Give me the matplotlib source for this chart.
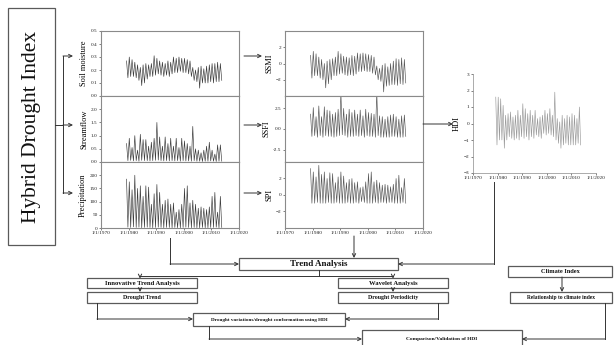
import matplotlib
matplotlib.use("Agg")
import matplotlib.pyplot as plt
from matplotlib.patches import Rectangle
import numpy as np

plt.rcParams['font.family'] = ['Liberation Serif', 'DejaVu Serif']

W, H = 614, 345

# ---------------- data (annual high / low) ----------------
years = list(range(1979, 2014))

sm_peak = [0.27, 0.30, 0.28, 0.26, 0.24, 0.22, 0.24, 0.25, 0.24, 0.25, 0.31, 0.29,
           0.27, 0.26, 0.25, 0.27, 0.26, 0.30, 0.29, 0.30, 0.29, 0.29, 0.28, 0.27,
           0.22, 0.20, 0.22, 0.23, 0.21, 0.23, 0.24, 0.25, 0.25, 0.26, 0.25]
sm_low = [0.14, 0.15, 0.15, 0.14, 0.12, 0.08, 0.10, 0.13, 0.15, 0.15, 0.16, 0.17,
          0.16, 0.15, 0.16, 0.15, 0.17, 0.18, 0.18, 0.19, 0.18, 0.18, 0.17, 0.15,
          0.12, 0.11, 0.06, 0.10, 0.10, 0.10, 0.11, 0.10, 0.11, 0.11, 0.12]

sf_peak = [0.70, 0.90, 0.55, 1.00, 0.45, 1.05, 0.85, 0.85, 0.60, 0.75, 0.90, 1.50,
           0.95, 0.60, 0.95, 0.70, 0.90, 0.60, 0.90, 0.55, 0.90, 0.80, 0.70, 0.60,
           1.35, 0.50, 0.45, 0.35, 0.45, 0.60, 0.75, 0.45, 0.30, 0.65, 0.65]
sf_low = [0.05, 0.06, 0.04, 0.05, 0.03, 0.06, 0.05, 0.05, 0.04, 0.05, 0.06, 0.07,
          0.05, 0.04, 0.05, 0.04, 0.05, 0.04, 0.05, 0.03, 0.05, 0.04, 0.04, 0.03,
          0.05, 0.03, 0.03, 0.02, 0.03, 0.03, 0.04, 0.03, 0.02, 0.03, 0.03]

pr_peak = [185, 175, 145, 200, 150, 160, 120, 160, 155, 90, 130, 165,
           135, 90, 105, 110, 90, 95, 60, 70, 90, 150, 160, 95,
           105, 90, 75, 80, 75, 70, 80, 120, 135, 60, 120]
pr_low = [3, 2, 4, 2, 3, 1, 2, 3, 2, 1, 2, 3, 2, 1, 2, 2, 1, 2, 1, 1, 2, 3, 2, 1,
          2, 1, 1, 2, 1, 1, 2, 2, 3, 1, 2]

ssmi_peak = [1.0, 1.5, 1.2, 0.8, 0.5, 0.0, 0.3, 0.5, 0.6, 0.8, 1.5, 1.2,
             0.9, 0.8, 0.7, 1.0, 0.9, 1.3, 1.2, 1.3, 1.2, 1.1, 1.0, 0.8,
             -0.3, -0.6, -0.2, 0.0, -0.4, 0.0, 0.3, 0.6, 0.5, 0.7, 0.5]
ssmi_low = [-1.8, -1.5, -1.5, -1.8, -2.0, -3.0, -2.5, -2.0, -1.5, -1.5, -1.3, -1.2,
            -1.4, -1.5, -1.4, -1.5, -1.3, -1.0, -1.0, -0.9, -1.0, -1.0, -1.2, -1.4,
            -2.0, -2.2, -3.5, -2.8, -2.7, -2.6, -2.6, -2.7, -2.5, -2.6, -2.4]

ssfi_peak = [1.8, 2.6, 1.5, 2.8, 1.5, 2.7, 2.3, 2.2, 1.8, 2.0, 2.4, 4.5,
             2.5, 1.8, 2.4, 2.0, 2.3, 1.8, 2.3, 1.6, 2.4, 2.0, 1.9, 1.8,
             4.5, 1.6, 1.5, 1.2, 1.5, 1.7, 1.8, 1.5, 1.2, 1.6, 1.7]
ssfi_low = [-0.9, -0.8, -1.0, -0.8, -1.0, -0.8, -0.9, -0.9, -1.0, -0.9, -0.8, -0.7,
            -0.8, -1.0, -0.9, -0.9, -0.8, -0.9, -0.8, -1.0, -0.8, -0.9, -0.9, -1.0,
            -0.8, -1.0, -1.0, -1.0, -1.0, -0.9, -0.9, -1.0, -1.0, -1.0, -0.9]

spi_peak = [3.2, 2.8, 2.2, 3.6, 2.5, 2.8, 2.0, 2.7, 2.6, 1.5, 2.2, 2.8,
            2.3, 1.5, 1.9, 2.0, 1.5, 1.6, 0.9, 1.0, 1.6, 2.6, 2.8, 1.6,
            1.8, 1.5, 1.2, 1.3, 1.2, 1.0, 1.3, 2.0, 2.4, 0.9, 2.0]
spi_low = [-1.0, -1.0, -0.9, -1.0, -1.0, -1.0, -0.9, -1.0, -1.0, -0.9, -1.0, -1.0,
           -1.0, -0.9, -1.0, -1.0, -0.9, -1.0, -0.8, -0.9, -1.0, -1.0, -1.0, -0.9,
           -1.0, -0.9, -0.9, -1.0, -0.9, -0.9, -1.0, -1.0, -1.0, -0.9, -1.0]

hdi_peak = [1.6, 1.6, 1.5, 1.1, 0.5, 0.6, 0.7, 0.4, 0.5, 0.8, 0.5, 1.2,
            0.9, 0.6, 0.8, 0.5, 0.8, 0.3, 0.4, 0.5, 0.8, 0.6, 0.9, 0.5,
            1.9, 0.3, 0.1, 0.5, 0.3, 0.5, 0.4, 0.6, 0.5, 0.3, 1.0]
hdi_low = [-1.3, -1.0, -1.0, -1.5, -1.0, -0.8, -0.9, -1.0, -0.9, -1.0, -0.8, -0.9,
           -0.8, -1.0, -0.8, -0.9, -0.7, -0.8, -0.9, -0.6, -0.7, -0.6, -0.7, -0.8,
           -1.0, -1.2, -1.5, -1.3, -1.2, -1.3, -1.3, -1.3, -1.3, -1.2, -1.3]

tick_years = [1970, 1980, 1990, 2000, 2010, 2020]
tick_labels = ["1/1/%d" % y for y in tick_years]


def series(peaks, lows):
    x, v = [], []
    for yr, p, t in zip(years, peaks, lows):
        x += [yr + 0.25, yr + 0.75]
        v += [p, t]
    return np.array(x), np.array(v)


fig = plt.figure(figsize=(6.14, 3.45), dpi=100)


def px_axes(x0, y0, x1, y1):
    return fig.add_axes([x0 / W, 1 - y1 / H, (x1 - x0) / W, (y1 - y0) / H])


def style(ax, show_x):
    for s in ax.spines.values():
        s.set_color('#8a8a8a')
        s.set_linewidth(0.8)
    ax.set_xlim(1970, 2020)
    ax.tick_params(labelsize=3.8, length=1.5, width=0.4, pad=1, colors='#222')
    ax.set_xticks(tick_years)
    if show_x:
        ax.set_xticklabels(tick_labels)
    else:
        ax.tick_params(axis='x', length=0, labelbottom=False)


LC = '#3a3a3a'
LW = 0.45

# left column
ax_sm = px_axes(101, 31, 239, 96)
x, v = series(sm_peak, sm_low)
ax_sm.plot(x, v, color=LC, lw=LW)
ax_sm.set_ylim(0, 0.5)
ax_sm.set_yticks([0, 0.1, 0.2, 0.3, 0.4, 0.5])
ax_sm.set_yticklabels(["0.0", "0.1", "0.2", "0.3", "0.4", "0.5"])
ax_sm.set_ylabel("Soil moisture", fontsize=6, labelpad=2)
style(ax_sm, False)

ax_sf = px_axes(101, 96, 239, 162)
x, v = series(sf_peak, sf_low)
ax_sf.plot(x, v, color=LC, lw=LW)
ax_sf.set_ylim(0, 2.5)
ax_sf.set_yticks([0, 0.5, 1.0, 1.5, 2.0])
ax_sf.set_yticklabels(["0.0", "0.5", "1.0", "1.5", "2.0"])
ax_sf.set_ylabel("Streamflow", fontsize=6, labelpad=2)
style(ax_sf, False)

ax_pr = px_axes(101, 162, 239, 228)
x, v = series(pr_peak, pr_low)
ax_pr.plot(x, v, color=LC, lw=LW)
ax_pr.set_ylim(0, 250)
ax_pr.set_yticks([0, 50, 100, 150, 200])
ax_pr.set_ylabel("Precipitation", fontsize=6, labelpad=2)
style(ax_pr, True)

# middle column
MC = '#555555'
ax_ssmi = px_axes(285, 31, 423, 96)
x, v = series(ssmi_peak, ssmi_low)
ax_ssmi.plot(x, v, color=MC, lw=LW)
ax_ssmi.set_ylim(-4, 4)
ax_ssmi.set_yticks([-2, 0, 2])
ax_ssmi.set_ylabel("SSMI", fontsize=6, labelpad=2)
style(ax_ssmi, False)

ax_ssfi = px_axes(285, 96, 423, 162)
x, v = series(ssfi_peak, ssfi_low)
ax_ssfi.plot(x, v, color=MC, lw=LW)
ax_ssfi.set_ylim(-4, 4)
ax_ssfi.set_yticks([-2.5, 0, 2.5])
ax_ssfi.set_yticklabels(["-2.5", "0.0", "2.5"])
ax_ssfi.set_ylabel("SSFI", fontsize=6, labelpad=2)
style(ax_ssfi, False)

ax_spi = px_axes(285, 162, 423, 228)
x, v = series(spi_peak, spi_low)
ax_spi.plot(x, v, color=MC, lw=LW)
ax_spi.set_ylim(-4, 4)
ax_spi.set_yticks([-2, 0, 2])
ax_spi.set_ylabel("SPI", fontsize=6, labelpad=2)
style(ax_spi, True)

# HDI
ax_hdi = px_axes(473, 74, 596, 173)
x, v = series(hdi_peak, hdi_low)
ax_hdi.plot(x, v, color='#9a9a9a', lw=LW)
ax_hdi.set_ylim(-3, 3)
ax_hdi.set_yticks([-3, -2, -1, 0, 1, 2, 3])
ax_hdi.set_ylabel("HDI", fontsize=6, labelpad=2)
style(ax_hdi, True)
for s in ax_hdi.spines.values():
    s.set_visible(False)
ax_hdi.spines['left'].set_visible(True)
ax_hdi.spines['bottom'].set_visible(True)
ax_hdi.spines['left'].set_linewidth(0.5)
ax_hdi.spines['bottom'].set_linewidth(0.5)

# ---------------- overlay for flowchart ----------------
ov = fig.add_axes([0, 0, 1, 1])
ov.set_xlim(0, W)
ov.set_ylim(H, 0)
ov.axis('off')
ov.patch.set_alpha(0)

FC = '#333333'


def box(x0, y0, x1, y1, text=None, fs=5, bold=True, ty=None):
    ov.add_patch(Rectangle((x0, y0), x1 - x0, y1 - y0, fill=False,
                           edgecolor='#5a5a5a', lw=0.9))
    if text:
        ov.text((x0 + x1) / 2, (y0 + y1) / 2 if ty is None else ty, text,
                ha='center', va='center', fontsize=fs,
                fontweight='bold' if bold else 'normal', color='#111')


def path(pts, arrow=True):
    xs = [p[0] for p in pts]
    ys = [p[1] for p in pts]
    if arrow:
        ov.plot(xs[:-1], ys[:-1], color=FC, lw=0.7)
        ov.annotate("", xy=pts[-1], xytext=pts[-2],
                    arrowprops=dict(arrowstyle='->', color=FC, lw=0.7,
                                    mutation_scale=6, shrinkA=0, shrinkB=0))
    else:
        ov.plot(xs, ys, color=FC, lw=0.7)


# big title box
box(8, 8, 55, 245)
ov.text(31.5, 127, "Hybrid Drought Index", rotation=90, ha='center',
        va='center', fontsize=15.5, color='#111')

# bracket arrows to left column
path([(55, 125), (63, 125)], arrow=False)
path([(63, 56), (63, 193)], arrow=False)
for yy in (56, 125, 193):
    path([(63, yy), (73, yy)])
# left -> middle
for yy in (56, 125, 193):
    path([(244, yy), (262, yy)])
# middle -> HDI
path([(423, 124), (453, 124)])

# trend analysis connections
path([(170, 238), (170, 264), (239, 264)])
path([(354, 236), (354, 258)])
path([(494, 182), (494, 264), (398, 264)])
box(239, 258, 398, 270, "Trend Analysis", fs=6.5)

path([(319, 270), (319, 276)], arrow=False)
path([(140, 276), (393, 276)], arrow=False)
path([(140, 276), (140, 278.5)])
path([(393, 276), (393, 278.5)])

box(87, 278, 197, 288, "Innovative Trend Analysis", fs=4.8)
box(87, 292, 197, 303, "Drought Trend", fs=4.2)
path([(140, 288), (140, 292)])
box(338, 278, 448, 288, "Wavelet Analysis", fs=4.8)
box(338, 292, 448, 303, "Drought Periodicity", fs=4.2)
path([(393, 288), (393, 292)])

box(193, 313, 345, 326, "Drought variations/drought conformation using HDI", fs=3.7)
path([(97, 303), (97, 319), (193, 319)])
path([(438, 303), (438, 319), (345, 319)])

box(362, 330, 522, 352, "Comparison/Validation of HDI", fs=3.9, ty=339)
path([(209, 326), (209, 339), (362, 339)])

box(508, 266, 612, 277, "Climate Index", fs=4.6)
box(510, 292, 612, 303, "Relationship to climate index", fs=4.0)
path([(562, 277), (562, 292)])
path([(605, 303), (605, 339), (522, 339)])

fig.savefig("out.png", dpi=100)
